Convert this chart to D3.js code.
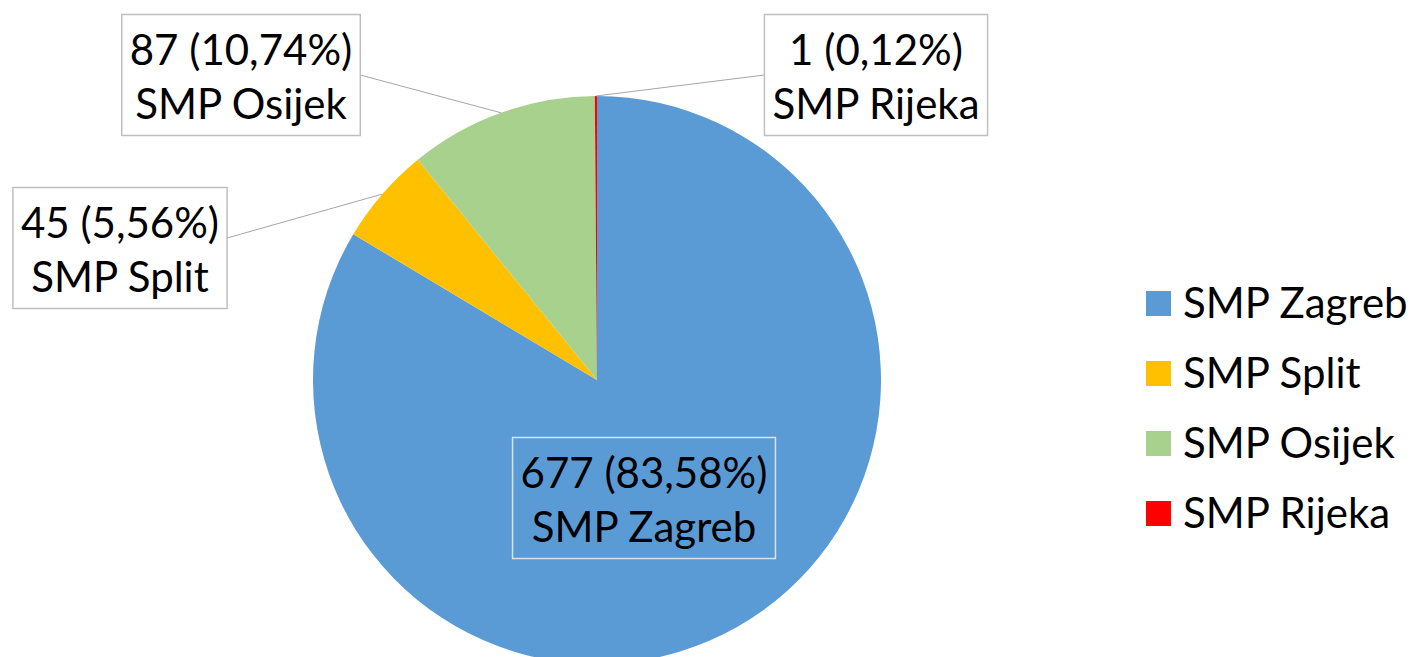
<!DOCTYPE html>
<html>
  <head>
    <meta charset="utf-8">
    <style>
      body { margin: 0; background: #fff; }
      text { font-family: Lato, "Open Sans", sans-serif; fill: #000; }
    </style>
    <script src="https://cdn.jsdelivr.net/npm/d3@7/dist/d3.min.js"></script>
  </head>
  <body>
    <svg class="chart"></svg>
    <script>
      // data
      const centres = ["SMP Zagreb", "SMP Split", "SMP Osijek", "SMP Rijeka"];
      const counts = [677, 45, 87, 1];
      const percents = ["83,58%", "5,56%", "10,74%", "0,12%"];
      const colors = ["#5B9BD5", "#FFC000", "#A9D18E", "#FF0000"];

      // label box centres (chart layout, not data)
      const labelPos = [[644, 498], [120, 248], [241, 75], [876, 75]];

      const width = 1415, height = 657;
      const cx = 597, cy = 380, radius = 284;
      const fontSize = 42;

      const svg = d3.select(".chart")
        .attr("width", width)
        .attr("height", height);

      const data = centres.map((c, i) => ({name: c, value: counts[i], pct: percents[i], color: colors[i], pos: labelPos[i]}));

      const pie = d3.pie().value(d => d.value).sort(null);
      const arc = d3.arc().innerRadius(0).outerRadius(radius);
      const arcs = pie(data);

      const g = svg.append("g").attr("transform", `translate(${cx}, ${cy})`);

      g.selectAll("path.slice").data(arcs).enter()
        .append("path")
        .attr("class", "slice")
        .attr("d", arc)
        .attr("fill", d => d.data.color);

      // leader lines under the label boxes
      const leaders = svg.append("g");
      const labels = svg.append("g");
      arcs.forEach((a, i) => {
        const [lx, ly] = a.data.pos;
        const lg = labels.append("g");
        const rect = lg.append("rect");
        const t = lg.append("text")
          .attr("text-anchor", "middle")
          .attr("font-size", fontSize);
        t.append("tspan").attr("x", lx).attr("y", ly - 10).text(`${a.data.value} (${a.data.pct})`);
        t.append("tspan").attr("x", lx).attr("y", ly + 44).text(a.data.name);
        const bb = t.node().getBBox();
        const w = bb.width + 16, h = 121;
        rect.attr("x", lx - w / 2).attr("y", ly - h / 2)
          .attr("width", w).attr("height", h)
          .attr("fill", i === 0 ? "none" : "#fff")
          .attr("stroke", i === 0 ? "#d6e2ee" : "#bfbfbf")
          .attr("stroke-width", 1.5);

        if (i > 0) {
          const mid = (a.startAngle + a.endAngle) / 2;
          const px = cx + radius * Math.sin(mid);
          const py = cy - radius * Math.cos(mid);
          const bx = lx < px ? lx + w / 2 : lx - w / 2;
          const by = i === 1 ? ly - 10 : ly;
          leaders.append("line")
            .attr("x1", px).attr("y1", py)
            .attr("x2", bx).attr("y2", by)
            .attr("stroke", "#a6a6a6")
            .attr("stroke-width", 1);
        }
      });

      // legend
      const legend = svg.append("g").attr("transform", "translate(1146, 303)");
      const item = legend.selectAll(".legend").data(data).enter()
        .append("g")
        .attr("class", "legend")
        .attr("transform", (d, i) => `translate(0, ${i * 70})`);
      item.append("rect")
        .attr("x", 0).attr("y", -12)
        .attr("width", 25).attr("height", 25)
        .attr("fill", d => d.color);
      item.append("text")
        .attr("x", 37).attr("y", 15)
        .attr("font-size", fontSize)
        .text(d => d.name);
    </script>
  </body>
</html>
